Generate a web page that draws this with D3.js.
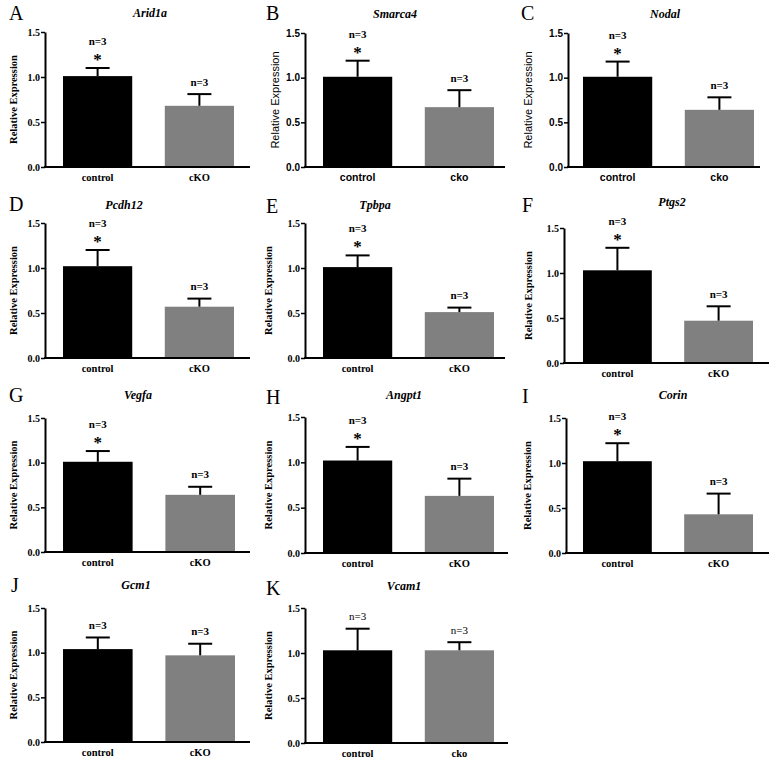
<!DOCTYPE html>
<html><head><meta charset="utf-8">
<script src="https://cdn.jsdelivr.net/npm/d3@7"></script>
<style>body{margin:0;background:#fff}</style>
</head><body><svg id="c" width="773" height="758"></svg>
<script>
// ---- data ----
const genes = ["Arid1a","Smarca4","Nodal","Pcdh12","Tpbpa","Ptgs2","Vegfa","Angpt1","Corin","Gcm1","Vcam1"];
const panelLetters = ["A","B","C","D","E","F","G","H","I","J","K"];
const firstLabels = ["control","control","control","control","control","control","control","control","control","control","control"];
const secondLabels = ["cKO","cko","cko","cKO","cKO","cKO","cKO","cKO","cKO","cKO","cko"];
const controlMeans = [1.01,1.01,1.01,1.02,1.01,1.03,1.01,1.02,1.02,1.04,1.03];
const controlSem   = [0.09,0.18,0.17,0.18,0.13,0.25,0.12,0.15,0.20,0.13,0.24];
const koMeans      = [0.68,0.67,0.64,0.57,0.51,0.47,0.64,0.63,0.43,0.97,1.03];
const koSem        = [0.13,0.19,0.14,0.09,0.05,0.16,0.09,0.19,0.23,0.13,0.09];
const significant  = [true,true,true,true,true,true,true,true,true,false,false];
const nLabels      = ["n=3","n=3","n=3","n=3","n=3","n=3","n=3","n=3","n=3","n=3","n=3"];
const yTicks = [0, 0.5, 1.0, 1.5];

// ---- layout (positions only) ----
const layout = [
 {ax:45, xe:250, b0:63, b1:234, y0:167, y15:32, tx:150, ty:17, lx:9, ly:20, yl:13},
 {ax:305, xe:505, b0:323, b1:494, y0:167, y15:33, tx:395, ty:18, lx:266, ly:20, yl:275, sans:true},
 {ax:568, xe:760, b0:583, b1:754, y0:167, y15:33, tx:665, ty:18, lx:521, ly:20, yl:528, sans:true},
 {ax:45, xe:250, b0:63, b1:234, y0:358, y15:223, tx:124, ty:209, lx:9, ly:211, yl:13},
 {ax:305, xe:505, b0:323, b1:494, y0:358, y15:223, tx:375, ty:209, lx:266, ly:213, yl:268},
 {ax:564, xe:769, b0:583, b1:753, y0:363, y15:228, tx:672, ty:206, lx:522, ly:212, yl:528},
 {ax:45, xe:250, b0:63, b1:235, y0:552, y15:418, tx:138, ty:399, lx:9, ly:402, yl:13},
 {ax:305, xe:508, b0:323, b1:494, y0:553, y15:417, tx:404, ty:399, lx:266, ly:404, yl:268},
 {ax:566, xe:769, b0:583, b1:753, y0:553, y15:418, tx:673, ty:399, lx:522, ly:403, yl:527},
 {ax:45, xe:250, b0:63, b1:235, y0:742, y15:608, tx:136, ty:589, lx:11, ly:592, yl:13},
 {ax:305, xe:508, b0:323, b1:494, y0:743, y15:608, tx:404, ty:590, lx:266, ly:595, yl:268}
];

const SERIF = "'Liberation Serif', 'DejaVu Serif', serif";
const SANS = "'Liberation Sans', Arial, sans-serif";
const colors = ["#000000", "#808080"];
const svg = d3.select("#c");

genes.forEach((gene, i) => {
  const L = layout[i];
  const ff = L.sans ? SANS : SERIF;
  const g = svg.append("g");
  const y = d3.scaleLinear().domain([0, 1.5]).range([L.y0, L.y15]);
  const groups = [firstLabels[i], secondLabels[i]];
  const x = d3.scaleBand().domain(groups).range([L.b0, L.b1]).paddingInner(0.32).paddingOuter(0);
  const data = [
    {k: groups[0], m: controlMeans[i], s: controlSem[i], c: colors[0], ctrl: true},
    {k: groups[1], m: koMeans[i], s: koSem[i], c: colors[1], ctrl: false}
  ];

  g.selectAll("rect").data(data).join("rect")
    .attr("x", d => x(d.k)).attr("width", x.bandwidth())
    .attr("y", d => y(d.m)).attr("height", d => y(0) - y(d.m))
    .attr("fill", d => d.c);

  data.forEach(d => {
    const cx = x(d.k) + x.bandwidth() / 2;
    g.append("line").attr("x1", cx).attr("x2", cx)
      .attr("y1", y(d.m)).attr("y2", y(d.m + d.s))
      .attr("stroke", "#000").attr("stroke-width", 2);
    g.append("line").attr("x1", cx - 12).attr("x2", cx + 12)
      .attr("y1", y(d.m + d.s)).attr("y2", y(d.m + d.s))
      .attr("stroke", "#000").attr("stroke-width", 2);
    const cap = y(d.m + d.s);
    const sig = d.ctrl && significant[i];
    const nY = sig ? cap - 27 : cap - 12.5;
    g.append("text").attr("x", cx).attr("y", nY + 4)
      .style("font-family", SERIF)
      .attr("text-anchor", "middle")
      .style("font-weight", i === 10 ? "normal" : "bold")
      .style("font-size", "11px").text(nLabels[i]);
    if (sig) {
      g.append("text").attr("x", cx).attr("y", cap - 11 + 8)
        .attr("text-anchor", "middle").style("font-family", SERIF)
        .style("font-weight", "bold").style("font-size", "17px").text("*");
    }
  });

  const ya = g.append("g").attr("transform", `translate(${L.ax},0)`)
    .call(d3.axisLeft(y).tickValues(yTicks).tickFormat(d3.format(".1f")).tickSize(4).tickSizeOuter(0));
  ya.attr("font-family", null);
  ya.select(".domain").attr("stroke-width", 2);
  ya.selectAll(".tick line").attr("stroke-width", 1.5);
  ya.selectAll(".tick text").style("font-family", ff).style("font-weight", "bold")
    .style("font-size", "10px").attr("fill", "#000").attr("x", -5);

  g.append("line").attr("x1", L.ax - 1).attr("x2", L.xe).attr("y1", L.y0).attr("y2", L.y0)
    .attr("stroke", "#000").attr("stroke-width", 2);
  g.selectAll(".xl").data(groups).join("text")
    .attr("x", d => x(d) + x.bandwidth() / 2).attr("y", L.y0 + 14)
    .attr("text-anchor", "middle").style("font-family", ff).style("font-weight", "bold")
    .style("font-size", "10.5px").text(d => d);

  g.append("text").attr("transform", `translate(${L.yl},${(L.y0 + L.y15) / 2}) rotate(-90)`)
    .attr("text-anchor", "middle").attr("dominant-baseline", "central")
    .style("font-family", ff).style("font-weight", L.sans ? "normal" : "bold")
    .style("font-size", L.sans ? "11px" : "10.5px").text("Relative Expression");

  g.append("text").attr("x", L.tx).attr("y", L.ty).attr("text-anchor", "middle")
    .style("font-family", SERIF).style("font-style", "italic").style("font-weight", "bold")
    .style("font-size", "12px").text(gene);

  g.append("text").attr("x", L.lx).attr("y", L.ly)
    .style("font-family", SERIF).style("font-size", "20px").text(panelLetters[i]);
});
</script>
</body></html>
